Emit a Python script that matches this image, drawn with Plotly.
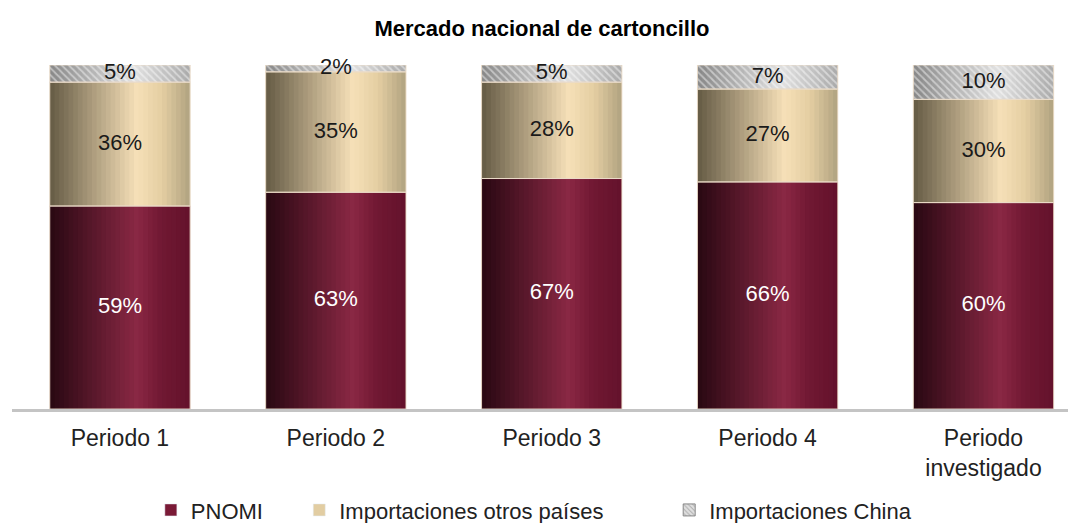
import numpy as np
import plotly.graph_objects as go

periodos = ["Periodo 1", "Periodo 2", "Periodo 3", "Periodo 4", "Periodo<br>investigado"]
pnomi = [59, 63, 67, 66, 60]
otros = [36, 35, 28, 27, 30]
china = [5, 2, 5, 7, 10]

FONT = "Liberation Sans, Arial, sans-serif"

# horizontal gradient stops (left -> right) imitating the cylinder shading
GRAD = {
    "PNOMI": [(0.0, (40, 8, 18)), (0.62, (138, 40, 68)), (0.8, (112, 24, 50)), (1.0, (100, 18, 44))],
    "otros": [(0.0, (100, 90, 68)), (0.62, (246, 224, 184)), (0.8, (228, 206, 162)), (1.0, (176, 162, 128))],
    "china": [(0.0, (135, 135, 135)), (0.6, (225, 225, 225)), (1.0, (170, 170, 170))],
}


def grad_color(stops, t):
    for (t0, c0), (t1, c1) in zip(stops[:-1], stops[1:]):
        if t0 <= t <= t1:
            f = (t - t0) / (t1 - t0)
            c = [round(a + (b - a) * f) for a, b in zip(c0, c1)]
            return "rgb(%d,%d,%d)" % tuple(c)
    return "rgb(%d,%d,%d)" % stops[-1][1]


BAR_W = 0.65
N = 30
SLICE = BAR_W / N
base_otros = list(np.array(pnomi))
base_china = list(np.array(pnomi) + np.array(otros))

series = [
    ("PNOMI", pnomi, [0] * len(pnomi), GRAD["PNOMI"], None),
    ("otros", otros, base_otros, GRAD["otros"], None),
    ("china", china, base_china, GRAD["china"], "\\"),
]

fig = go.Figure()

for key, vals, base, stops, shape in series:
    for k in range(N):
        t = (k + 0.5) / N
        # each slice overlaps the next one to avoid anti-aliasing seams
        w = SLICE * 2 if k < N - 1 else SLICE
        marker = dict(color=grad_color(stops, t), line=dict(width=0))
        if shape:
            marker["pattern"] = dict(shape=shape, fgcolor="rgba(255,255,255,0.9)",
                                     size=5, solidity=0.35, fillmode="overlay")
        fig.add_trace(go.Bar(
            x=periodos, y=vals, base=base,
            offset=-BAR_W / 2 + k * SLICE, width=w,
            marker=marker, showlegend=False, hoverinfo="skip",
        ))

# thin light outline around each segment
for vals, base in [(pnomi, [0] * 5), (otros, base_otros), (china, base_china)]:
    fig.add_trace(go.Bar(
        x=periodos, y=vals, base=base, width=BAR_W,
        marker=dict(color="rgba(0,0,0,0)", line=dict(color="rgba(235,220,200,0.9)", width=1)),
        showlegend=False, hoverinfo="skip",
    ))

# labels
mid_p = [v / 2 for v in pnomi]
mid_o = [b + v / 2 for b, v in zip(base_otros, otros)]
mid_c = [b + v / 2 for b, v in zip(base_china, china)]
for mids, vals, col in [(mid_p, pnomi, "white"), (mid_o, otros, "#1a1a1a"), (mid_c, china, "#1a1a1a")]:
    fig.add_trace(go.Scatter(
        x=periodos, y=mids, mode="text", text=[f"{v}%" for v in vals],
        textfont=dict(family=FONT, size=22, color=col),
        showlegend=False, hoverinfo="skip", cliponaxis=False,
    ))

# legend entries, one legend each so the spacing can follow the reference
fig.add_trace(go.Bar(x=[None], y=[None], name="PNOMI", legend="legend",
                     marker=dict(color="#7a1a36")))
fig.add_trace(go.Bar(x=[None], y=[None], name="Importaciones otros países", legend="legend2",
                     marker=dict(color="#e2cda2")))
fig.add_trace(go.Bar(x=[None], y=[None], name="Importaciones China", legend="legend3",
                     marker=dict(color="#e0e0e0", line=dict(color="#888", width=1),
                                 pattern=dict(shape="\\", fgcolor="#777", size=4, solidity=0.3))))

leg = dict(orientation="h", xanchor="left", y=-0.294, yanchor="middle",
           font=dict(family=FONT, size=22, color="#222"), itemwidth=30,
           bgcolor="rgba(0,0,0,0)")

# the page body adds an 8px margin, so the figure is 8px smaller than the window
fig.update_layout(
    title=dict(text="<b>Mercado nacional de cartoncillo</b>", x=0.5, xanchor="center",
               y=0.961, yanchor="middle", font=dict(family=FONT, size=22, color="black")),
    barmode="overlay",
    width=1068, height=515,
    margin=dict(l=4, r=4, t=57, b=114, autoexpand=False),
    plot_bgcolor="white", paper_bgcolor="white",
    font=dict(family=FONT, color="#222"),
    showlegend=True,
    legend=dict(leg, x=0.131),
    legend2=dict(leg, x=0.271),
    legend3=dict(leg, x=0.620),
    xaxis=dict(range=[-0.5, 4.41], showline=True, linecolor="#c4c4c4", linewidth=3,
               ticks="", ticklabelstandoff=6,
               tickfont=dict(family=FONT, size=23, color="#222"), showgrid=False),
    yaxis=dict(range=[0, 100], visible=False, showgrid=False),
)

fig.write_html("out.html")
